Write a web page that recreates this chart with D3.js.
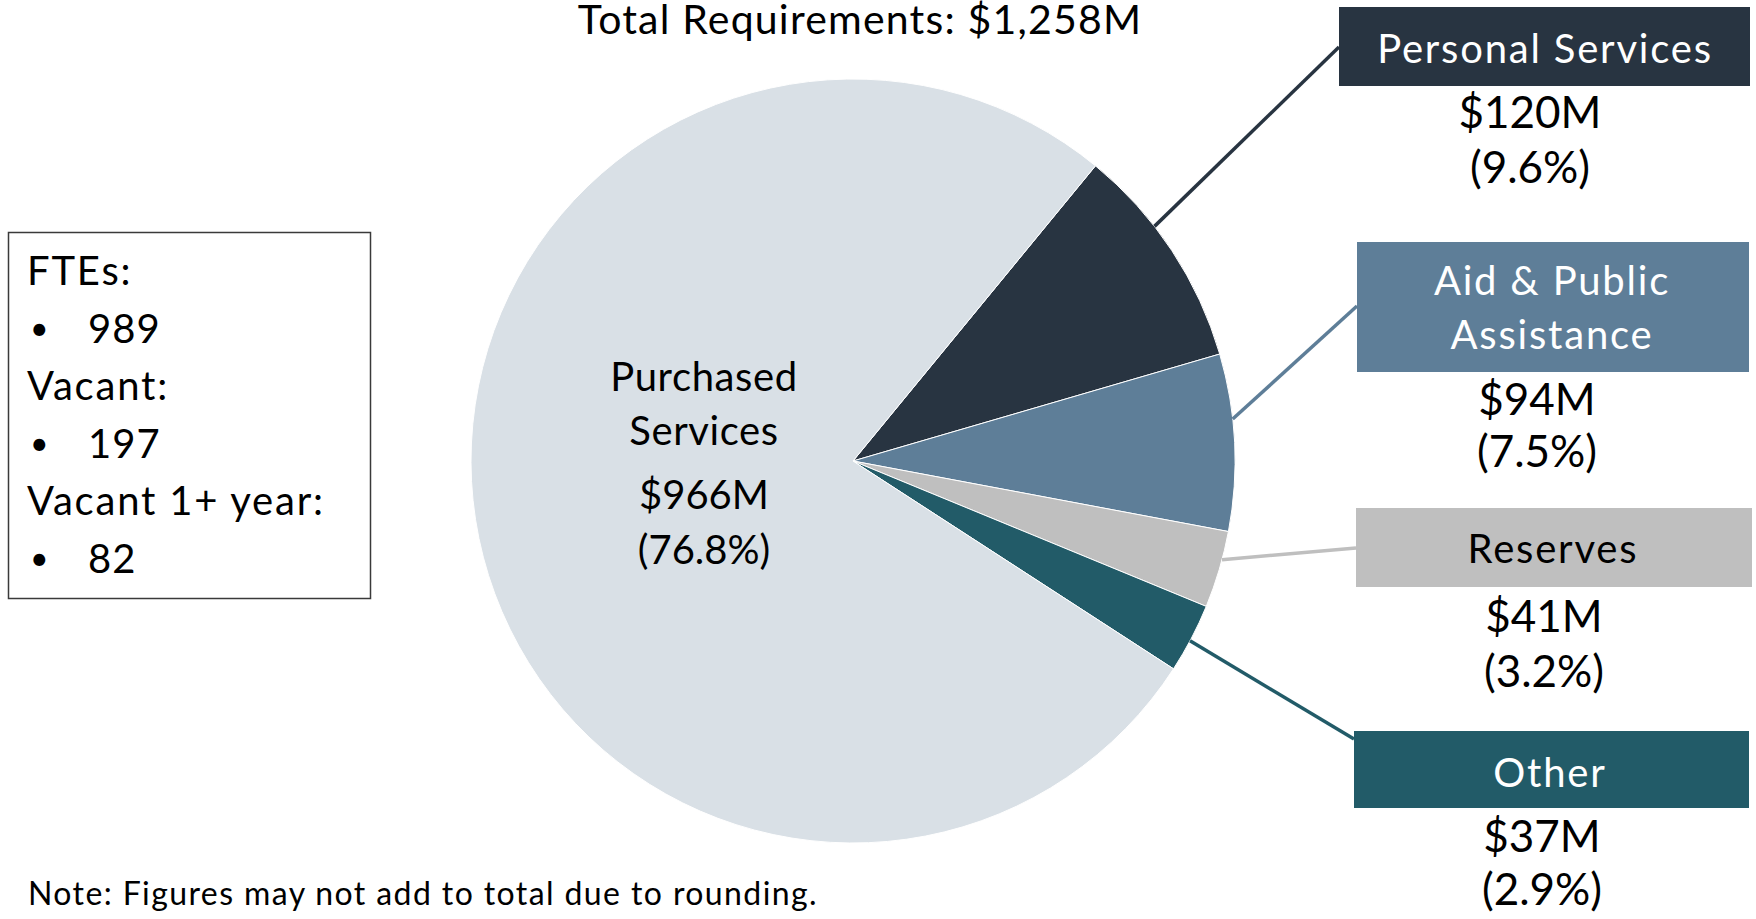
<!DOCTYPE html>
<html>
<head>
<meta charset="utf-8">
<script src="https://cdn.jsdelivr.net/npm/d3@7"></script>
<style>
  html, body { margin: 0; padding: 0; background: #fff; }
  text { font-family: Lato, "Open Sans", sans-serif; }
</style>
</head>
<body>
<script>
const WIDTH = 1756
const HEIGHT = 919

// data
const categories = ["Personal Services", "Aid & Public Assistance", "Reserves", "Other", "Purchased Services"]
const amounts = [120, 94, 41, 37, 966]          // $M
const amountLabels = ["$120M", "$94M", "$41M", "$37M", "$966M"]
const pctLabels = ["(9.6%)", "(7.5%)", "(3.2%)", "(2.9%)", "(76.8%)"]
const colors = ["#283441", "#5e7e98", "#bfbfbf", "#225b68", "#d9e0e6"]
const total = "$1,258M"
const staffLines = ["FTEs:", "989", "Vacant:", "197", "Vacant 1+ year:", "82"]
const bulleted = [false, true, false, true, false, true]

// layout for the callout boxes on the right (positions only)
const boxes = [
  {x: 1339, y: 7, w: 411, h: 79, lines: ["Personal Services"], text: "#fff", ly: [63], vy: [128, 183], tx: 1545, vx: 1530, anchorY: 47, frac: 0.37},
  {x: 1357, y: 242, w: 392, h: 130, lines: ["Aid & Public", "Assistance"], text: "#fff", ly: [295, 349], vy: [415, 467], tx: 1552, vx: 1537, anchorY: 306, frac: 0.37},
  {x: 1356, y: 508, w: 396, h: 79, lines: ["Reserves"], text: "#000", ly: [563], vy: [632, 687], tx: 1553, vx: 1544, anchorY: 548, frac: 0.37},
  {x: 1354, y: 731, w: 395, h: 77, lines: ["Other"], text: "#fff", ly: [787], vy: [852, 905], tx: 1550, vx: 1542, anchorY: 739, frac: 0.54}
]

const CX = 853, CY = 461, R = 382
const START = 39.4 * Math.PI / 180

const svg = d3.select("body").append("svg").attr("width", WIDTH).attr("height", HEIGHT)

const pie = d3.pie().sort(null).value(d => d)
  .startAngle(START).endAngle(START + 2 * Math.PI)
const arcs = pie(amounts)
const arc = d3.arc().innerRadius(0).outerRadius(R)

const g = svg.append("g").attr("transform", `translate(${CX},${CY})`)

g.selectAll("path")
  .data(arcs)
  .enter()
  .append("path")
  .attr("d", arc)
  .attr("fill", (d, i) => colors[i])
  .attr("stroke", "#fff")
  .attr("stroke-width", 1)

// leader lines from slice edge to callout box
boxes.forEach((b, i) => {
  const a = arcs[i]
  const ang = a.startAngle + (a.endAngle - a.startAngle) * b.frac
  const x0 = CX + Math.sin(ang) * R
  const y0 = CY - Math.cos(ang) * R
  svg.append("line")
    .attr("x1", x0).attr("y1", y0)
    .attr("x2", b.x).attr("y2", b.anchorY)
    .attr("stroke", colors[i])
    .attr("stroke-width", 3.5)
})

// callout boxes
boxes.forEach((b, i) => {
  svg.append("rect")
    .attr("x", b.x).attr("y", b.y)
    .attr("width", b.w).attr("height", b.h)
    .attr("fill", colors[i])
  b.lines.forEach((l, j) => {
    svg.append("text")
      .attr("x", b.tx).attr("y", b.ly[j])
      .attr("text-anchor", "middle")
      .attr("font-size", 40)
      .attr("letter-spacing", 1.8)
      .attr("fill", b.text)
      .text(l)
  })
  ;[amountLabels[i], pctLabels[i]].forEach((t, j) => {
    svg.append("text")
      .attr("x", b.vx).attr("y", b.vy[j])
      .attr("text-anchor", "middle")
      .attr("font-size", 44)
      .attr("fill", "#000")
      .text(t)
  })
})

// label inside the big slice
const inner = svg.append("g").attr("text-anchor", "middle").attr("fill", "#000")
;["Purchased", "Services"].forEach((t, j) => {
  inner.append("text").attr("x", 704).attr("y", [391, 445][j]).attr("font-size", 40).attr("letter-spacing", 0.6).text(t)
})
;[amountLabels[4], pctLabels[4]].forEach((t, j) => {
  inner.append("text").attr("x", 704).attr("y", [509, 564][j]).attr("font-size", 40).text(t)
})

// title
svg.append("text")
  .attr("x", 860).attr("y", 34)
  .attr("text-anchor", "middle")
  .attr("font-size", 41)
  .attr("letter-spacing", 1.2)
  .text("Total Requirements: " + total)

// staffing box
svg.append("rect")
  .attr("x", 8.5).attr("y", 232.5)
  .attr("width", 362).attr("height", 366)
  .attr("fill", "none")
  .attr("stroke", "#3a3a3a")
  .attr("stroke-width", 1.5)

staffLines.forEach((t, i) => {
  const y = 285 + i * 57.5
  if (bulleted[i]) {
    svg.append("text").attr("x", 30).attr("y", y - 3).attr("font-size", 32).text("•")
    svg.append("text").attr("x", 88).attr("y", y).attr("font-size", 40).attr("letter-spacing", 1).text(t)
  } else {
    svg.append("text").attr("x", 27).attr("y", y).attr("font-size", 40).attr("letter-spacing", 1.8).text(t)
  }
})

// note
svg.append("text")
  .attr("x", 28).attr("y", 905)
  .attr("font-size", 32)
  .attr("letter-spacing", 1.4)
  .text("Note: Figures may not add to total due to rounding.")
</script>
</body>
</html>
